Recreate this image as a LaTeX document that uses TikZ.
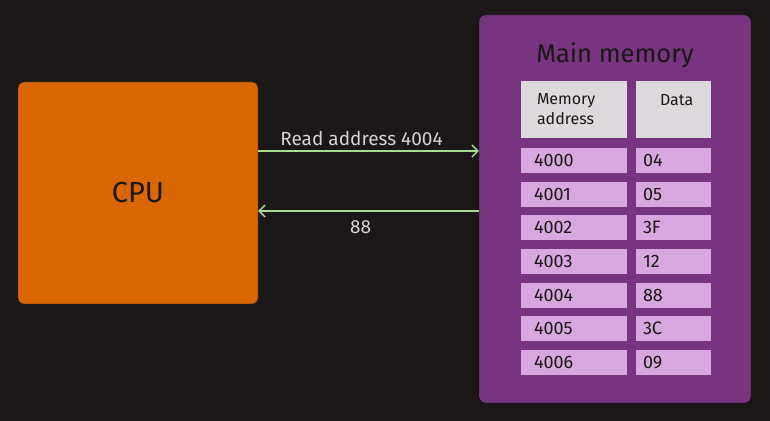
\documentclass[tikz,border=0pt]{standalone}
\usepackage{fontspec}
\setmainfont{Fira Sans}
\usetikzlibrary{arrows.meta}

\definecolor{bgdark}{HTML}{1A1716}
\definecolor{cpuorange}{HTML}{DA6600}
\definecolor{mempurple}{HTML}{77347F}
\definecolor{headgray}{HTML}{DCDADC}
\definecolor{cellpink}{HTML}{D9A7E0}
\definecolor{busgreen}{HTML}{A9DC8E}
\definecolor{labelgray}{HTML}{D4D4D4}

\begin{document}
\begin{tikzpicture}[
    x=1pt, y=1pt,
    cellfont/.style={font=\fontsize{18}{21}\selectfont},
    addrcell/.style={rectangle, fill=cellpink, cellfont, text=bgdark,
                minimum width=106pt, minimum height=25pt,
                inner xsep=13pt, text width=80pt, align=left},
    datacell/.style={rectangle, fill=cellpink, cellfont, text=bgdark,
                minimum width=75pt, minimum height=25pt,
                inner xsep=7pt, text width=61pt, align=left},
    headcell/.style={rectangle, fill=headgray, text=bgdark,
                font=\fontsize{16}{20}\selectfont,
                minimum height=57pt, align=left},
    bus/.style={draw=busgreen, line width=1.4pt,
                -{Straight Barb[length=6pt, width=12pt, line width=1.4pt]}},
    buslabel/.style={text=labelgray, font=\fontsize{19}{22}\selectfont}
]

% Hintergrund
\useasboundingbox (0,0) rectangle (770,420);
\fill[bgdark] (-5,-5) rectangle (775,425);

% CPU und Speicher
\node[rectangle, rounded corners=6pt, draw=bgdark, fill=cpuorange,
      minimum width=240pt, minimum height=222pt,
      font=\fontsize{29}{34}\selectfont, text=bgdark] (cpu) at (138,227) {CPU};

\node[rectangle, rounded corners=6pt, draw=black, fill=mempurple,
      minimum width=272pt, minimum height=388pt] (mem) at (615,211) {};

\node[font=\fontsize{25.5}{30}\selectfont, text=bgdark] (memtitle) at (615,365)
    {Main memory};

% Kopfzeile
\node[headcell, minimum width=106pt, inner xsep=16pt, text width=74pt]
    (hdaddr) at (574,310.5) {Memory\\address};
\node[headcell, minimum width=75pt, inner xsep=24pt, text width=27pt]
    (hddata) at (673.5,310.5) {Data\\\mbox{}};

% Zeilen
\node[addrcell] (a0) at (574,259.5) {4000};
\node[datacell] (d0) at (673.5,259.5) {04};
\node[addrcell] (a1) at (574,225.8) {4001};
\node[datacell] (d1) at (673.5,225.8) {05};
\node[addrcell] (a2) at (574,192.2) {4002};
\node[datacell] (d2) at (673.5,192.2) {3F};
\node[addrcell] (a3) at (574,158.5) {4003};
\node[datacell] (d3) at (673.5,158.5) {12};
\node[addrcell] (a4) at (574,124.8) {4004};
\node[datacell] (d4) at (673.5,124.8) {88};
\node[addrcell] (a5) at (574,91.2) {4005};
\node[datacell] (d5) at (673.5,91.2) {3C};
\node[addrcell] (a6) at (574,57.5) {4006};
\node[datacell] (d6) at (673.5,57.5) {09};

% Pfeile
\draw[bus] ([yshift=42pt]cpu.east) -- ([yshift=42pt]cpu.east -| mem.west)
    node[buslabel, midway, above=1pt, xshift=-7pt] (rdlabel) {Read address 4004};
\draw[bus] ([yshift=-18pt]cpu.east -| mem.west) -- ([yshift=-18pt]cpu.east)
    node[buslabel, midway, below=6pt, xshift=-8pt] (vallabel) {88};

\end{tikzpicture}
\end{document}
